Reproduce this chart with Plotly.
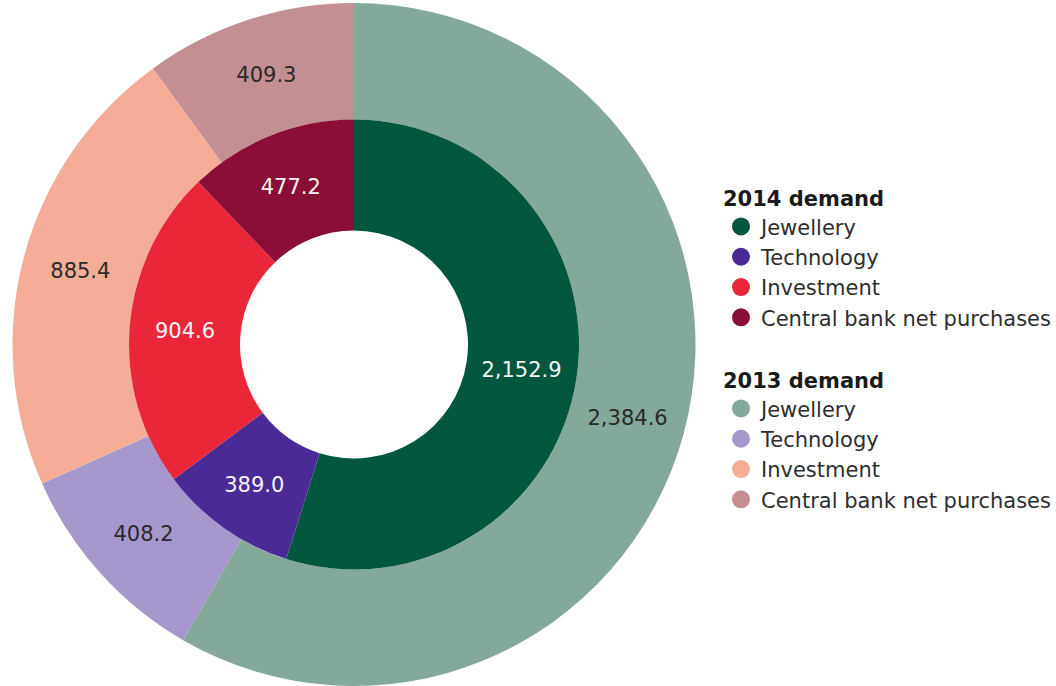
import plotly.graph_objects as go

# Gold demand by sector (tonnes)
categories = ["Jewellery", "Technology", "Investment", "Central bank net purchases"]
demand_2014 = [2152.9, 389.0, 904.6, 477.2]
demand_2013 = [2384.6, 408.2, 885.4, 409.3]

colors_2014 = ["#00573D", "#4A2A94", "#EA2639", "#8A0F36"]
colors_2013 = ["#84A899", "#A698CC", "#F5AD98", "#C48F93"]

FONT = "DejaVu Sans"
W, H = 1056, 686

# ring geometry (pixels)
cx, cy = 354, 341.5          # centre measured from left / bottom
r_outer, r_mid, r_hole = 341.5, 225, 114


def dom(r):
    return dict(x=[(cx - r) / W, (cx + r) / W], y=[(cy - r) / H, (cy + r) / H])


fig = go.Figure()

# outer ring: 2013
fig.add_trace(go.Pie(
    labels=[c + " 2013" for c in categories],
    values=demand_2013,
    domain=dom(r_outer),
    hole=r_mid / r_outer,
    sort=False,
    direction="clockwise",
    rotation=0,
    marker=dict(colors=colors_2013, line=dict(width=0)),
    texttemplate="%{value:,.1f}",
    textposition="inside",
    insidetextorientation="horizontal",
    textfont=dict(family=FONT, size=21, color="#2a2a2a"),
    showlegend=False,
    hoverinfo="label+value",
))

# inner ring: 2014
fig.add_trace(go.Pie(
    labels=[c + " 2014" for c in categories],
    values=demand_2014,
    domain=dom(r_mid),
    hole=r_hole / r_mid,
    sort=False,
    direction="clockwise",
    rotation=0,
    marker=dict(colors=colors_2014, line=dict(width=0)),
    texttemplate="%{value:,.1f}",
    textposition="inside",
    insidetextorientation="horizontal",
    textfont=dict(family=FONT, size=21, color="#f4f4f4"),
    showlegend=False,
    hoverinfo="label+value",
))

# legend entries with round markers
for name, col in zip(categories, colors_2014):
    fig.add_trace(go.Scatter(
        x=[None], y=[None], mode="markers", name=name,
        marker=dict(symbol="circle", size=16, color=col, line=dict(width=2, color=col)),
        legend="legend",
    ))
for name, col in zip(categories, colors_2013):
    fig.add_trace(go.Scatter(
        x=[None], y=[None], mode="markers", name=name,
        marker=dict(symbol="circle", size=16, color=col, line=dict(width=2, color=col)),
        legend="legend2",
    ))

legend_common = dict(
    xanchor="left", yanchor="top",
    font=dict(family=FONT, size=21, color="#2e2e2e"),
    bgcolor="rgba(0,0,0,0)",
    borderwidth=0,
    itemclick=False, itemdoubleclick=False,
)

fig.update_layout(
    width=W, height=H,
    margin=dict(l=0, r=0, t=0, b=0),
    paper_bgcolor="white",
    plot_bgcolor="white",
    xaxis=dict(visible=False),
    yaxis=dict(visible=False),
    legend=dict(
        x=721 / W, y=1 - 179 / H,
        title=dict(text="<b>2014 demand</b>", font=dict(family=FONT, size=21, color="#1a1a1a")),
        **legend_common,
    ),
    legend2=dict(
        x=721 / W, y=1 - 361 / H,
        title=dict(text="<b>2013 demand</b>", font=dict(family=FONT, size=21, color="#1a1a1a")),
        **legend_common,
    ),
)

fig.write_html("out.html")
